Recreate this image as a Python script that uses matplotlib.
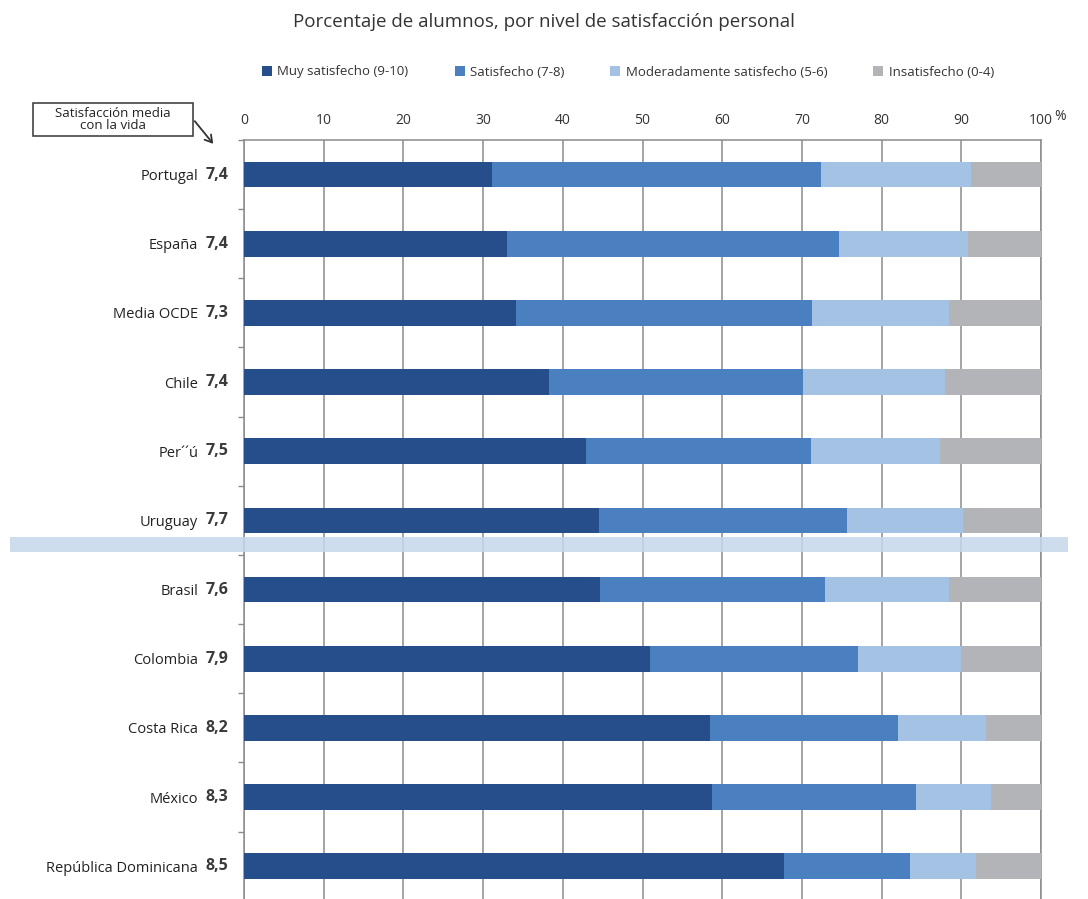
"""
Stacked horizontal bars: student life satisfaction by country.
"""

import numpy as np
import matplotlib
matplotlib.use("Agg")
import matplotlib.pyplot as plt
import matplotlib.transforms as mtransforms
from matplotlib.patches import Rectangle, FancyArrowPatch

plt.rcParams['font.family'] = ['Open Sans', 'DejaVu Sans']

#--------------------------------------------------------------
# data (% of students)
#--------------------------------------------------------------
countries = ["Portugal", "España", "Media OCDE", "Chile", "Per´´ú", "Uruguay",
             "Brasil", "Colombia", "Costa Rica", "México", "República Dominicana"]
mean_score = ["7,4", "7,4", "7,3", "7,4", "7,5", "7,7", "7,6", "7,9", "8,2", "8,3", "8,5"]

muy_satisfecho = [31.1, 33.0, 34.1, 38.3, 42.9, 44.5, 44.7, 51.0, 58.5, 58.7, 67.8]
satisfecho     = [41.3, 41.7, 37.2, 31.9, 28.2, 31.2, 28.2, 26.1, 23.6, 25.6, 15.8]
moderado       = [18.8, 16.1, 17.2, 17.8, 16.2, 14.5, 15.6, 12.9, 11.0, 9.4, 8.3]
insatisfecho   = [8.8, 9.2, 11.5, 12.0, 12.7, 9.8, 11.5, 10.0, 6.9, 6.3, 8.1]

series_names = ["Muy satisfecho (9-10)", "Satisfecho (7-8)",
                "Moderadamente satisfecho (5-6)", "Insatisfecho (0-4)"]
series_colors = ["#264e8a", "#4a7fc0", "#a4c2e3", "#b3b4b7"]

xticks = [0, 10, 20, 30, 40, 50, 60, 70, 80, 90, 100]

#--------------------------------------------------------------
# figure
#--------------------------------------------------------------
W, H = 1088, 899
fig = plt.figure(figsize=(W/100, H/100), dpi=100)
ax = fig.add_axes([244/W, -0.002, (1041-244)/W, 1 - 140/H + 0.002])

n = len(countries)
ypos = np.arange(n)
left = np.zeros(n)
for vals, name, col in zip([muy_satisfecho, satisfecho, moderado, insatisfecho],
                           series_names, series_colors):
    ax.barh(ypos, vals, left=left, height=0.37, color=col, label=name, zorder=3)
    left = left + np.array(vals)

ax.set_xlim(0, 100)
ax.set_ylim(n - 0.5, -0.5)

# vertical grid, ticks on top
ax.xaxis.tick_top()
ax.set_xticks(xticks)
ax.set_xticklabels([str(t) for t in xticks], fontsize=10, color="#333333")
ax.tick_params(axis="x", length=0, pad=9)
ax.grid(axis="x", color="#8c8c8c", linewidth=1.1, zorder=1)
fig.text(1054/W, 1 - 117/H, "%", ha="left", va="center", fontsize=10, color="#333333")

# y: country names as tick labels, minor ticks between categories
ax.set_yticks(ypos)
ax.set_yticklabels(countries, fontsize=10.5, color="#222222")
ax.tick_params(axis="y", which="major", length=0, pad=33)
ax.set_yticks(np.arange(n + 1) - 0.5, minor=True)
ax.tick_params(axis="y", which="minor", length=4, color="#8c8c8c", width=1)

trans = mtransforms.blended_transform_factory(ax.transAxes, ax.transData)
for i, val in enumerate(mean_score):
    ax.text(-0.048, ypos[i], val, transform=trans, ha="left", va="center",
            fontsize=11.5, fontweight="bold", color="#3a3a3a")

for side in ["left", "right", "top"]:
    ax.spines[side].set_color("#8c8c8c")
    ax.spines[side].set_linewidth(1.1)
ax.spines["bottom"].set_visible(False)

# light blue separator band between Uruguay and Brasil
band_trans = mtransforms.blended_transform_factory(fig.transFigure, ax.transData)
fig.add_artist(Rectangle((10/W, 5.24), (1068-10)/W, 0.22, transform=band_trans,
                         facecolor="#c5d7ec", edgecolor="none", alpha=0.85, zorder=2))

# title and legend
fig.text(0.5, 1 - 22/H, "Porcentaje de alumnos, por nivel de satisfacción personal",
         ha="center", va="center", fontsize=13.5, color="#333333")
fig.legend(loc="center", bbox_to_anchor=(628/W, 1 - 72/H), ncol=4, frameon=False,
           fontsize=9.5, handlelength=0.75, handleheight=0.75, handletextpad=0.4,
           columnspacing=3.5, labelcolor="#333333")

# annotation box with arrow
fig.add_artist(Rectangle((33/W, 1 - 136/H), (193-33)/W, 33/H, transform=fig.transFigure,
                         facecolor="white", edgecolor="#444444", linewidth=1.2))
fig.text(113/W, 1 - 119.5/H, "Satisfacción media\ncon la vida", ha="center",
         va="center", fontsize=9.5, color="#222222", linespacing=0.95)
fig.add_artist(FancyArrowPatch(
    (193/W, 1 - 119/H), (215/W, 1 - 146/H), transform=fig.transFigure,
    arrowstyle="->,head_length=5,head_width=3", color="#333333", linewidth=1.3))

fig.savefig("out.png", dpi=100)
